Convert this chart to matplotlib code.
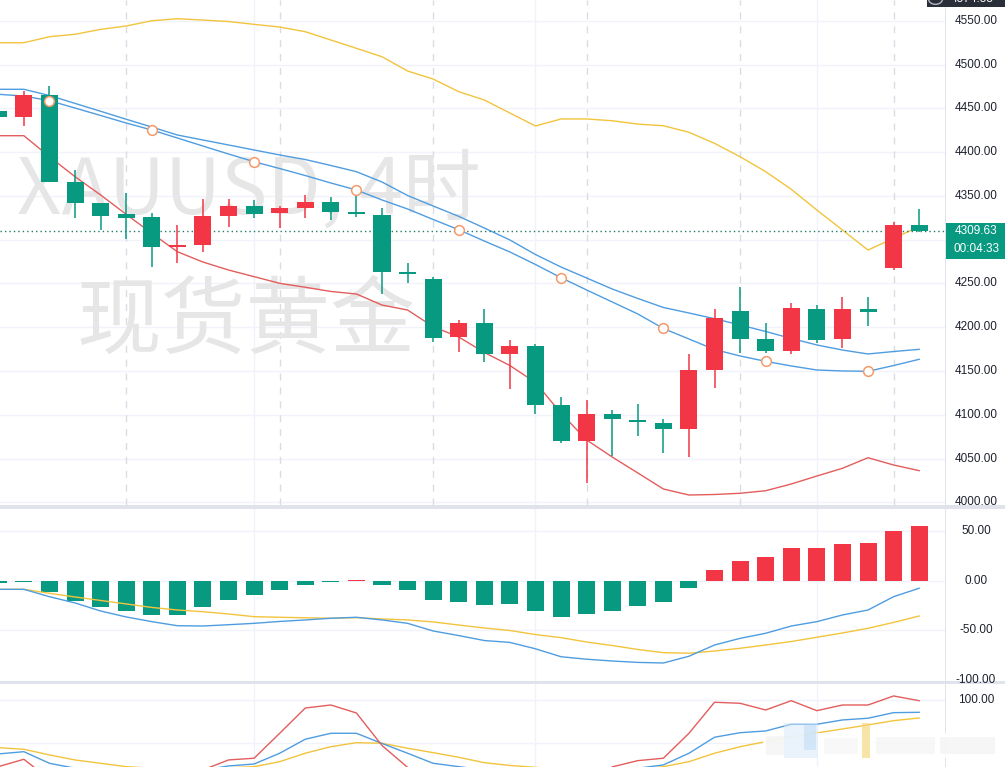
import matplotlib
matplotlib.use("Agg")
import matplotlib.pyplot as plt
from matplotlib.patches import Rectangle, Circle
from matplotlib import transforms
import numpy as np

# ---------------- data ----------------
opens = [4446.9, 4440.4, 4465.2, 4366.2, 4341.5, 4329.3, 4326.2, 4291.9, 4294.2, 4327.3,
         4338.4, 4330.8, 4336.5, 4343.0, 4331.5, 4328.1, 4262.7, 4255.0, 4189.1, 4204.4,
         4169.0, 4178.5, 4111.1, 4070.4, 4100.5, 4094.0, 4090.2, 4083.4, 4151.1, 4218.5,
         4186.5, 4173.2, 4220.8, 4186.5, 4220.8, 4267.9, 4316.7]
highs = [4448.5, 4469.8, 4475.5, 4379.5, 4342.0, 4352.9, 4330.8, 4316.7, 4346.0, 4346.4,
         4345.3, 4338.0, 4351.0, 4349.0, 4352.9, 4335.8, 4273.0, 4257.0, 4208.2, 4220.8,
         4185.4, 4180.8, 4120.6, 4116.8, 4105.4, 4111.9, 4095.2, 4169.4, 4220.4, 4246.2,
         4205.1, 4227.3, 4225.4, 4234.8, 4234.8, 4319.8, 4335.0]
lows = [4439.0, 4429.8, 4366.2, 4324.4, 4311.0, 4300.4, 4269.1, 4273.0, 4286.2, 4314.8,
        4324.4, 4313.6, 4324.4, 4322.4, 4325.5, 4237.5, 4250.1, 4183.4, 4172.0, 4160.6,
        4129.7, 4100.5, 4067.4, 4022.1, 4052.9, 4076.0, 4056.6, 4052.1, 4130.9, 4170.9,
        4170.2, 4169.4, 4181.6, 4176.6, 4201.3, 4265.3, 4309.0]
closes = [4440.4, 4465.2, 4366.2, 4342.2, 4327.3, 4325.0, 4291.9, 4294.2, 4327.0, 4338.4,
          4329.6, 4336.5, 4342.6, 4331.9, 4328.9, 4263.4, 4260.4, 4188.0, 4204.4, 4169.0,
          4178.5, 4111.1, 4070.4, 4100.5, 4094.8, 4091.4, 4083.4, 4151.1, 4210.1, 4186.5,
          4173.2, 4221.9, 4185.7, 4220.8, 4217.0, 4316.7, 4309.63]

band_upper = [4524.9, 4524.9, 4531.8, 4534.5, 4540.2, 4544.0, 4550.0, 4552.3, 4550.8, 4549.1,
              4545.9, 4542.8, 4537.5, 4528.0, 4518.5, 4508.9, 4492.6, 4483.4, 4469.0, 4459.5,
              4444.6, 4429.8, 4437.8, 4437.8, 4435.8, 4432.0, 4430.1, 4422.6, 4410.0, 4394.7,
              4377.6, 4357.5, 4333.8, 4311.0, 4288.1, 4301.5, 4314.8]
band_lower = [4418.7, 4418.7, 4394.7, 4371.9, 4351.0, 4328.9, 4307.2, 4286.2, 4274.4, 4265.3,
              4257.7, 4250.1, 4245.6, 4240.8, 4237.9, 4225.3, 4219.6, 4200.6, 4188.8, 4171.1,
              4156.2, 4136.8, 4101.6, 4071.2, 4051.7, 4033.5, 4015.2, 4008.3, 4008.9, 4010.3,
              4013.2, 4020.9, 4030.0, 4038.8, 4050.9, 4042.6, 4036.1]
ma_slow = [4471.7, 4471.7, 4464.6, 4455.6, 4446.6, 4437.5, 4428.6, 4419.5, 4413.8, 4408.1,
           4402.4, 4396.7, 4391.5, 4384.7, 4377.6, 4365.8, 4350.4, 4338.4, 4326.6, 4313.3,
           4299.6, 4283.0, 4268.7, 4256.2, 4243.6, 4232.8, 4222.5, 4216.2, 4209.7, 4202.5,
           4195.1, 4187.1, 4179.7, 4173.9, 4169.4, 4172.2, 4174.7]
ma_fast = [4466.0, 4464.0, 4458.7, 4450.3, 4441.8, 4433.2, 4425.2, 4416.1, 4406.9, 4397.8,
           4389.0, 4381.2, 4373.2, 4364.7, 4356.7, 4345.3, 4335.0, 4323.0, 4311.3, 4298.4,
           4285.9, 4271.6, 4256.5, 4242.5, 4228.8, 4215.1, 4198.5, 4186.5, 4174.5, 4167.1,
           4161.0, 4155.7, 4151.1, 4150.0, 4149.6, 4156.2, 4163.3]

macd_hist = [-2.0, -1.0, -11.7, -20.8, -26.8, -30.2, -34.2, -34.2, -26.8, -19.8,
             -14.8, -9.0, -4.0, -1.3, 0.7, -4.7, -9.0, -19.0, -21.0, -24.8,
             -23.9, -30.0, -37.0, -34.0, -30.0, -25.5, -21.0, -7.0, 10.7, 19.8,
             23.8, 32.9, 32.9, 37.3, 38.3, 49.9, 55.2]
macd_dif = [-8.7, -8.7, -16.1, -22.4, -30.5, -36.5, -41.2, -45.3, -45.6, -44.3,
            -42.9, -41.0, -39.5, -37.8, -36.8, -39.5, -42.9, -50.6, -55.2, -60.2,
            -62.1, -68.5, -76.5, -79.0, -80.8, -82.2, -82.8, -76.0, -64.7, -58.0,
            -52.9, -45.6, -41.2, -34.5, -29.5, -16.1, -7.6]
macd_dea = [-8.7, -8.7, -12.7, -16.4, -19.9, -23.4, -26.9, -29.5, -31.2, -33.5,
            -36.2, -36.8, -37.3, -37.8, -37.2, -38.5, -39.5, -41.5, -44.6, -47.6,
            -50.1, -54.2, -57.3, -61.7, -65.2, -69.2, -72.4, -73.0, -70.7, -68.0,
            -64.7, -61.2, -56.9, -52.6, -47.9, -42.0, -35.5]

kdj_k = [37.6, 40.2, 26.7, 21.0, 18.0, 15.0, 13.0, 15.0, 19.0, 23.6,
         25.9, 38.4, 54.7, 61.6, 61.6, 49.8, 38.4, 26.7, 22.8, 19.0,
         16.0, 14.0, 13.0, 14.0, 18.0, 21.0, 24.8, 38.4, 57.0, 62.3,
         64.3, 72.1, 72.1, 77.1, 79.1, 85.6, 86.0]
kdj_d = [44.9, 43.0, 36.4, 30.6, 26.7, 22.8, 21.0, 20.0, 20.5, 21.5,
         22.8, 28.6, 38.4, 46.0, 50.7, 50.0, 44.2, 39.1, 33.7, 27.4,
         24.2, 22.0, 20.0, 19.0, 18.5, 19.5, 22.8, 28.6, 38.4, 46.0,
         51.9, 57.3, 62.0, 66.6, 71.3, 76.3, 79.4]
kdj_j = [22.8, 31.4, 8.0, 2.0, 0.0, 0.0, 0.0, 6.0, 19.0, 30.6,
         32.6, 61.6, 91.0, 94.5, 85.2, 47.4, 22.0, 5.0, 2.0, 2.0,
         0.0, 0.0, 0.0, 4.0, 22.5, 29.8, 32.6, 61.6, 97.7, 96.5,
         88.7, 99.5, 87.9, 94.5, 94.5, 105.0, 99.5]

price_ticks = [4000, 4050, 4100, 4150, 4200, 4250, 4350, 4400, 4450, 4500, 4550]
macd_ticks = [50, 0, -50, -100]
kdj_ticks = [100]
last_price = 4309.63
countdown = "00:04:33"
high_label = "4574.55"
watermark_1 = "XAUUSD, 4时"
watermark_2 = "现货黄金"

# ---------------- style ----------------
GREEN = "#089981"
RED = "#f23645"
YELLOW = "#f2c43d"
BLUE = "#4f9de0"
LRED = "#e35d5d"
GRID = "#f0f3fa"
SEP = "#e0e3eb"
TXT = "#1e222d"

W, H = 1005, 767
fig = plt.figure(figsize=(W / 100, H / 100), dpi=100)
fig.patch.set_facecolor("white")

PLOT_R = 945
def frac_y(py):
    return 1 - py / H

ax1 = fig.add_axes([0, frac_y(505), PLOT_R / W, 505 / H])
ax2 = fig.add_axes([0, frac_y(680.5), PLOT_R / W, (680.5 - 508.5) / H])
ax3 = fig.add_axes([0, 0, PLOT_R / W, (767 - 683.5) / H])

n = len(closes)
idx = np.arange(n)
XLIM = (0.066, 37.01)
for ax in (ax1, ax2, ax3):
    ax.set_xlim(*XLIM)
    ax.set_xticks([])
    ax.set_yticks([])
    for s in ax.spines.values():
        s.set_visible(False)
    ax.set_facecolor("white")

ax1.set_ylim(3996.9, 4573.7)
ax2.set_ylim(-100.4, 72.6)
ax3.set_ylim(22.4, 119.5)

# vertical grid lines (solid) and day separators (dashed)
solid_v = [10, 21, 32]
dashed_v = [5, 11, 17, 23, 29, 35]
for ax in (ax1, ax2, ax3):
    for v in solid_v:
        ax.axvline(v, color=GRID, lw=1.0, zorder=0.5)
for v in dashed_v:
    ax1.axvline(v, color="#d9dce3", lw=1.0, ls=(0, (5, 5)), zorder=0.6)

# horizontal grids
for t in price_ticks + [4300]:
    ax1.axhline(t, color=GRID, lw=1.0, zorder=0.5)
for t in [50, 0, -50]:
    ax2.axhline(t, color=GRID, lw=1.0, zorder=0.5)
for t in [100, 50]:
    ax3.axhline(t, color=GRID, lw=1.0, zorder=0.5)

# watermark text in price pane
wm_font = ["Noto Sans CJK SC", "DejaVu Sans"]
ax1.text(249 / W, frac_y(192), watermark_1, transform=fig.transFigure, ha="center", va="center",
         fontsize=56, color="#e6e6e6", family=wm_font, zorder=0.7)
ax1.text(246 / W, frac_y(322), watermark_2, transform=fig.transFigure, ha="center", va="center",
         fontsize=61, color="#e6e6e6", family=wm_font, zorder=0.7)

# overlays
ax1.plot(idx, band_upper, color=YELLOW, lw=1.0, zorder=2)
ax1.plot(idx, band_lower, color=LRED, lw=1.0, zorder=2)
ax1.plot(idx, ma_slow, color=BLUE, lw=1.0, zorder=2)
ax1.plot(idx, ma_fast, color=BLUE, lw=1.0, zorder=2)

# candles
cw = 0.665
o = np.array(opens); c = np.array(closes); h = np.array(highs); l = np.array(lows)
colors = [RED if cc >= oo else GREEN for oo, cc in zip(o, c)]
ax1.vlines(idx, l, h, colors=colors, lw=1.1, zorder=3)
bottoms = np.minimum(o, c)
heights = np.maximum(np.abs(c - o), 1.6)
ax1.bar(idx, heights, bottom=bottoms, width=cw, color=colors, edgecolor="none", zorder=3.5)

# circle markers on fast line
ax1.plot(idx[2::4], np.array(ma_fast)[2::4], "o", ms=7, mfc="white", mec="#f39a6b", mew=1.1, zorder=4)

# last price dotted line
ax1.axhline(last_price, color="#1f7a68", lw=1.0, ls=(0, (1, 2.2)), zorder=2.5)

# MACD
hcols = [RED if v > 0 else GREEN for v in macd_hist]
hh = [v if abs(v) > 0.8 else (0.8 if v > 0 else -0.8) for v in macd_hist]
ax2.bar(idx, hh, width=cw, color=hcols, edgecolor="none", zorder=2)
ax2.plot(idx, macd_dea, color=YELLOW, lw=1.0, zorder=3)
ax2.plot(idx, macd_dif, color=BLUE, lw=1.0, zorder=3)

# KDJ
ax3.plot(idx, kdj_d, color=YELLOW, lw=1.0, zorder=2)
ax3.plot(idx, kdj_k, color=BLUE, lw=1.0, zorder=2)
ax3.plot(idx, kdj_j, color=LRED, lw=1.0, zorder=2)

# ---------------- figure-level decorations ----------------
def prect(x0, y0, x1, y1, color, z=1.0, alpha=1.0):
    r = Rectangle((x0 / W, 1 - y1 / H), (x1 - x0) / W, (y1 - y0) / H, transform=fig.transFigure,
                  facecolor=color, edgecolor="none", zorder=z, alpha=alpha)
    fig.add_artist(r)
    return r

# pane separators and axis border
prect(0, 505, W, 508.5, SEP, z=1)
prect(0, 680.5, W, 683.5, SEP, z=1)
prect(945, 0, 946, H, SEP, z=1)

LAB = dict(fontsize=8.5, family="Liberation Sans", color=TXT, ha="center", va="center", zorder=3)
t1 = transforms.blended_transform_factory(fig.transFigure, ax1.transData)
t2 = transforms.blended_transform_factory(fig.transFigure, ax2.transData)
t3 = transforms.blended_transform_factory(fig.transFigure, ax3.transData)
for t in price_ticks:
    fig.text(976 / W, t, f"{t:.2f}", transform=t1, **LAB)
for t in macd_ticks:
    fig.text(976 / W, t, f"{t:.2f}", transform=t2, **LAB)
for t in kdj_ticks:
    fig.text(976 / W, t, f"{t:.2f}", transform=t3, **LAB)

# current price label
prect(946, 222.5, W, 258.5, GREEN, z=2)
fig.text(976 / W, frac_y(231), f"{last_price:.2f}", fontsize=8.5, family="Liberation Sans",
         color="white", ha="center", va="center", zorder=3)
fig.text(976 / W, frac_y(249), countdown, fontsize=8.5, family="Liberation Sans",
         color="white", ha="center", va="center", zorder=3)

# top high label (cut off at the top edge, as in the source screenshot)
prect(927, 0, W, 7, "#2a2e39", z=2)
fig.text(972 / W, frac_y(-1), high_label, fontsize=8.5, family="Liberation Sans",
         color="white", ha="center", va="center", zorder=3)
circ = Circle((935.5 / W, frac_y(-1)), 7 / W, transform=fig.transFigure, facecolor="none",
              edgecolor="#b2b5be", lw=1.0, zorder=3)
fig.add_artist(circ)

# blurred logo watermark in lower right
prect(763, 733, 997, 758, "white", z=1.5, alpha=0.9)
prect(766, 736, 784, 755, "#eeeeee", z=1.6, alpha=0.5)
prect(784, 723, 818, 758, "#d6e8f8", z=1.6, alpha=0.5)
prect(804, 724, 816, 750, "#a9cff2", z=1.6, alpha=0.35)
prect(824, 738, 858, 754, "#f2f2f2", z=1.6, alpha=0.5)
prect(862, 723, 870, 758, "#f6d67a", z=1.6, alpha=0.65)
prect(876, 737, 935, 754, "#f0f0f0", z=1.6, alpha=0.5)
prect(940, 737, 995, 754, "#eeeeee", z=1.6, alpha=0.5)

fig.savefig("out.png", dpi=100, facecolor="white")
